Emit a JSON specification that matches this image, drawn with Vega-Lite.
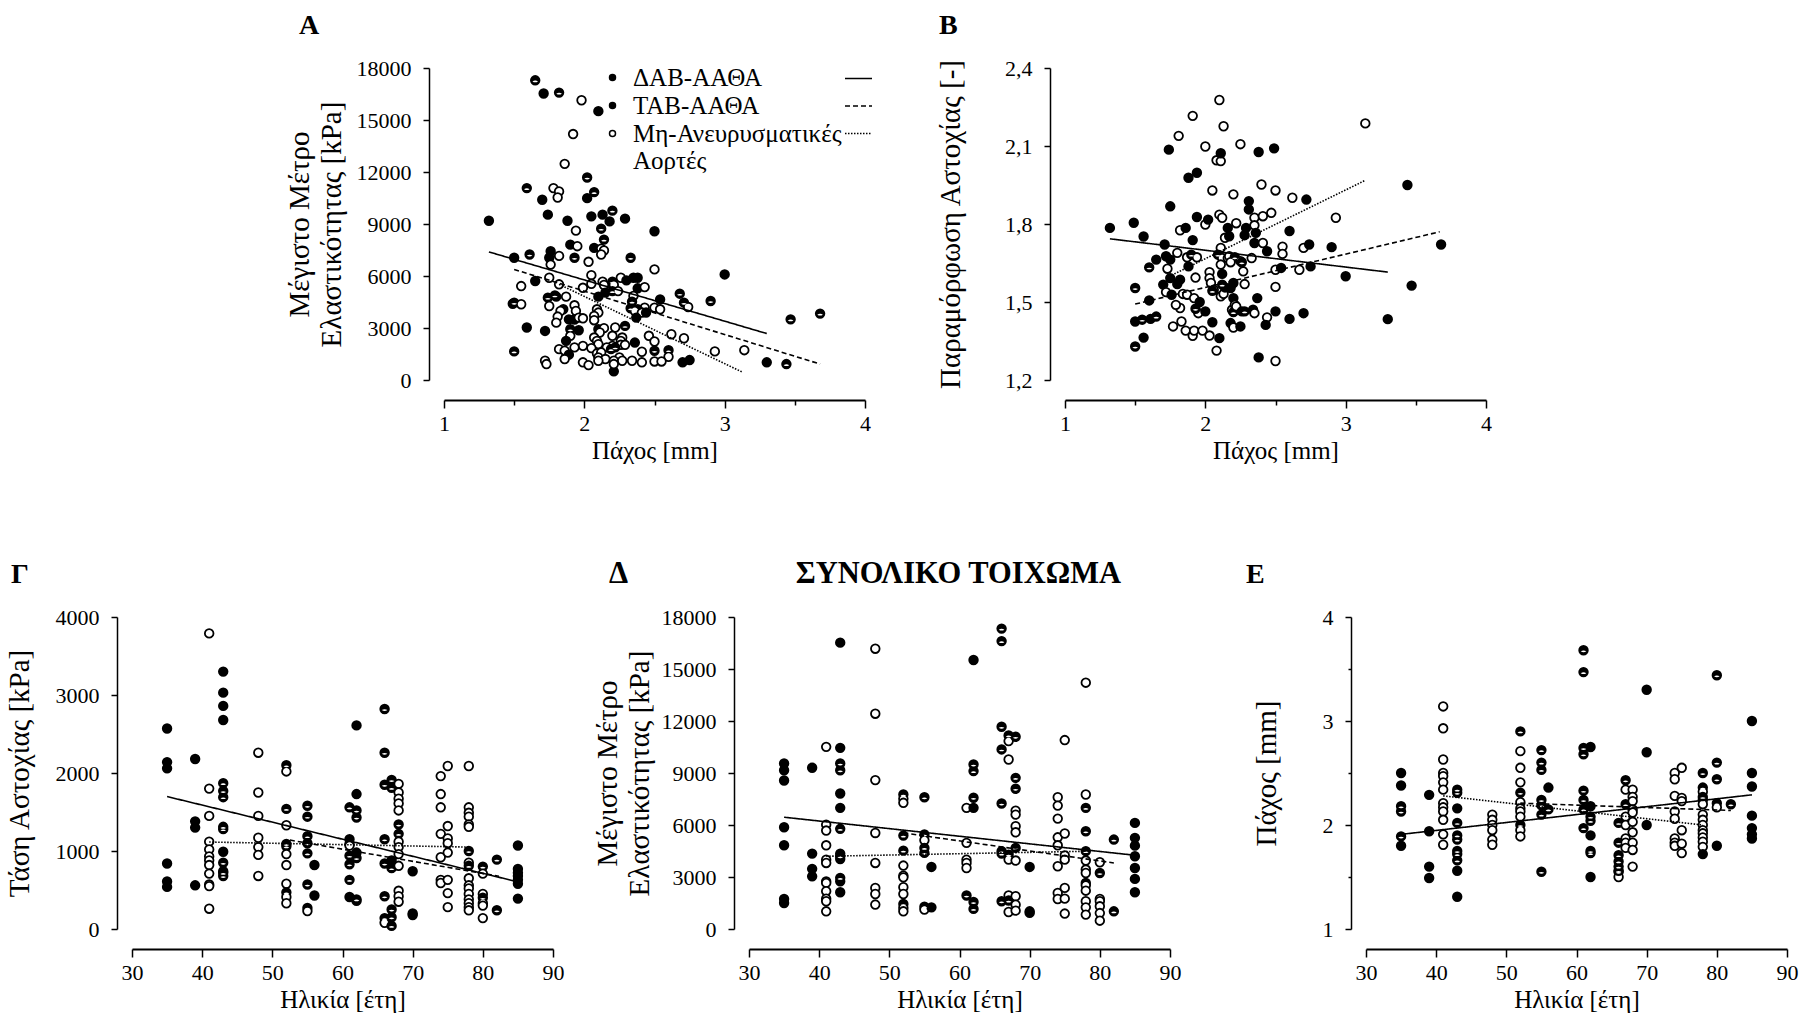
{
"$schema":"https://vega.github.io/schema/vega-lite/v6.json",
"background":"white",
"padding":{"left":4,"top":12,"right":5,"bottom":5},
"config":{
 "view":{"stroke":null},
 "font":"Liberation Serif",
 "axis":{"grid":false,"domainColor":"black","tickColor":"black","tickWidth":1.5,"labelFont":"Liberation Serif","labelFontSize":22,"labelColor":"black","titleFont":"Liberation Serif","titleFontWeight":"normal","titleColor":"black","labelOverlap":false},
 "axisX":{"offset":20,"domainWidth":2,"labelPadding":5,"titlePadding":4,"titleFontSize":25,"labelFlush":false},
 "axisY":{"offset":15,"domainWidth":1.5,"labelPadding":12,"titleFontSize":29,"titleLineHeight":32},
 "title":{"font":"Liberation Serif","fontSize":28,"fontWeight":"bold","anchor":"start","frame":"group","offset":17,"color":"black"},
 "legend":{"labelFont":"Liberation Serif","labelColor":"black"}
},
"datasets":{
"A":[
{"x":1.65,"y":17290,"g":"H"},{"x":1.71,"y":16530,"g":"F"},{"x":1.82,"y":16580,"g":"H"},{"x":1.98,"y":16140,"g":"O"},{"x":2.10,"y":15510,"g":"F"},{"x":1.92,"y":14190,"g":"O"},{"x":1.86,"y":12470,"g":"O"},{"x":2.02,"y":11680,"g":"H"},{"x":1.59,"y":11070,"g":"H"},{"x":1.78,"y":11070,"g":"O"},{"x":1.82,"y":10880,"g":"O"},{"x":1.81,"y":10530,"g":"O"},{"x":1.70,"y":10400,"g":"F"},{"x":2.07,"y":10840,"g":"H"},{"x":2.02,"y":10490,"g":"F"},{"x":1.32,"y":9190,"g":"F"},{"x":1.74,"y":9540,"g":"F"},{"x":1.88,"y":9190,"g":"F"},{"x":2.05,"y":9440,"g":"F"},{"x":2.13,"y":9540,"g":"F"},{"x":2.20,"y":9770,"g":"H"},{"x":2.18,"y":9150,"g":"F"},{"x":2.29,"y":9310,"g":"F"},{"x":1.94,"y":8620,"g":"O"},{"x":2.12,"y":8730,"g":"H"},{"x":2.50,"y":8580,"g":"F"},{"x":2.14,"y":8100,"g":"H"},{"x":1.90,"y":7810,"g":"F"},{"x":1.95,"y":7720,"g":"O"},{"x":2.07,"y":7620,"g":"F"},{"x":2.12,"y":7580,"g":"O"},{"x":2.14,"y":7470,"g":"O"},{"x":2.12,"y":7240,"g":"O"},{"x":1.61,"y":7240,"g":"H"},{"x":1.76,"y":7430,"g":"F"},{"x":1.82,"y":7160,"g":"O"},{"x":1.75,"y":7050,"g":"F"},{"x":1.76,"y":6660,"g":"O"},{"x":1.93,"y":7050,"g":"H"},{"x":2.33,"y":7050,"g":"H"},{"x":1.50,"y":7050,"g":"F"},{"x":2.03,"y":6820,"g":"O"},{"x":2.50,"y":6380,"g":"O"},{"x":3.00,"y":6090,"g":"F"},{"x":1.65,"y":5710,"g":"F"},{"x":1.55,"y":5420,"g":"O"},{"x":1.75,"y":5900,"g":"O"},{"x":1.82,"y":5520,"g":"O"},{"x":2.05,"y":6050,"g":"O"},{"x":2.05,"y":5550,"g":"O"},{"x":1.99,"y":5320,"g":"O"},{"x":2.13,"y":5670,"g":"O"},{"x":2.14,"y":5480,"g":"O"},{"x":2.20,"y":5670,"g":"H"},{"x":2.21,"y":5480,"g":"O"},{"x":2.26,"y":5900,"g":"O"},{"x":2.30,"y":5750,"g":"F"},{"x":2.35,"y":5900,"g":"F"},{"x":2.38,"y":5900,"g":"F"},{"x":2.38,"y":5290,"g":"F"},{"x":2.43,"y":5360,"g":"O"},{"x":2.20,"y":5130,"g":"H"},{"x":2.24,"y":5130,"g":"O"},{"x":2.15,"y":5040,"g":"F"},{"x":2.10,"y":4810,"g":"F"},{"x":1.79,"y":4880,"g":"H"},{"x":1.74,"y":4750,"g":"H"},{"x":1.80,"y":4810,"g":"F"},{"x":1.87,"y":4810,"g":"O"},{"x":2.68,"y":4980,"g":"H"},{"x":2.54,"y":4650,"g":"F"},{"x":2.71,"y":4460,"g":"H"},{"x":2.74,"y":4210,"g":"O"},{"x":2.90,"y":4560,"g":"H"},{"x":2.35,"y":4850,"g":"O"},{"x":2.34,"y":4520,"g":"H"},{"x":2.43,"y":4170,"g":"O"},{"x":2.50,"y":4170,"g":"O"},{"x":2.54,"y":4080,"g":"O"},{"x":1.50,"y":4460,"g":"H"},{"x":1.49,"y":4400,"g":"F"},{"x":1.55,"y":4370,"g":"O"},{"x":1.75,"y":4270,"g":"O"},{"x":1.85,"y":4080,"g":"F"},{"x":1.83,"y":3980,"g":"O"},{"x":1.93,"y":4310,"g":"O"},{"x":1.94,"y":3980,"g":"O"},{"x":2.09,"y":4080,"g":"O"},{"x":2.33,"y":4140,"g":"H"},{"x":2.38,"y":4080,"g":"F"},{"x":2.36,"y":3980,"g":"O"},{"x":2.41,"y":3890,"g":"O"},{"x":2.44,"y":3890,"g":"F"},{"x":2.10,"y":3890,"g":"O"},{"x":2.07,"y":3700,"g":"O"},{"x":2.37,"y":3600,"g":"F"},{"x":1.81,"y":3660,"g":"O"},{"x":1.80,"y":3310,"g":"O"},{"x":1.89,"y":3500,"g":"F"},{"x":1.93,"y":3490,"g":"F"},{"x":1.96,"y":3600,"g":"O"},{"x":1.99,"y":3560,"g":"O"},{"x":2.07,"y":3450,"g":"O"},{"x":3.47,"y":3500,"g":"H"},{"x":3.68,"y":3830,"g":"H"},{"x":1.59,"y":3030,"g":"F"},{"x":1.72,"y":2830,"g":"F"},{"x":1.90,"y":2930,"g":"H"},{"x":1.96,"y":2870,"g":"F"},{"x":2.10,"y":2930,"g":"F"},{"x":2.14,"y":2990,"g":"O"},{"x":2.22,"y":3030,"g":"O"},{"x":2.29,"y":3120,"g":"H"},{"x":2.11,"y":2740,"g":"O"},{"x":2.20,"y":2550,"g":"O"},{"x":2.27,"y":2450,"g":"O"},{"x":2.62,"y":2640,"g":"O"},{"x":2.71,"y":2410,"g":"O"},{"x":2.46,"y":2550,"g":"O"},{"x":2.50,"y":2220,"g":"O"},{"x":1.90,"y":2550,"g":"O"},{"x":2.07,"y":2450,"g":"O"},{"x":1.87,"y":2260,"g":"F"},{"x":2.09,"y":2260,"g":"O"},{"x":2.26,"y":2260,"g":"O"},{"x":2.36,"y":2160,"g":"F"},{"x":2.20,"y":1970,"g":"O"},{"x":2.10,"y":2070,"g":"O"},{"x":2.26,"y":2030,"g":"O"},{"x":2.29,"y":2030,"g":"O"},{"x":1.99,"y":1970,"g":"O"},{"x":1.93,"y":1880,"g":"O"},{"x":2.05,"y":1840,"g":"O"},{"x":1.82,"y":1780,"g":"O"},{"x":1.86,"y":1690,"g":"O"},{"x":2.16,"y":1880,"g":"O"},{"x":2.19,"y":1780,"g":"H"},{"x":2.22,"y":1880,"g":"H"},{"x":2.41,"y":1630,"g":"O"},{"x":2.50,"y":1690,"g":"H"},{"x":2.60,"y":1720,"g":"H"},{"x":1.50,"y":1650,"g":"H"},{"x":2.09,"y":1530,"g":"O"},{"x":2.12,"y":1590,"g":"O"},{"x":1.89,"y":1460,"g":"F"},{"x":2.93,"y":1650,"g":"O"},{"x":3.14,"y":1720,"g":"O"},{"x":2.60,"y":1340,"g":"O"},{"x":2.10,"y":1300,"g":"O"},{"x":2.25,"y":1300,"g":"O"},{"x":2.15,"y":1210,"g":"O"},{"x":2.21,"y":1110,"g":"O"},{"x":1.86,"y":1210,"g":"O"},{"x":1.72,"y":1110,"g":"O"},{"x":1.73,"y":920,"g":"O"},{"x":2.10,"y":1110,"g":"O"},{"x":1.99,"y":1020,"g":"O"},{"x":2.03,"y":860,"g":"O"},{"x":2.27,"y":1110,"g":"O"},{"x":2.34,"y":1110,"g":"O"},{"x":2.41,"y":1020,"g":"O"},{"x":2.50,"y":1070,"g":"O"},{"x":2.55,"y":1070,"g":"O"},{"x":2.70,"y":1020,"g":"F"},{"x":2.75,"y":1150,"g":"F"},{"x":3.30,"y":1020,"g":"F"},{"x":3.44,"y":920,"g":"H"},{"x":2.21,"y":500,"g":"F"},{"x":2.21,"y":920,"g":"O"}
],
"B":[
{"x":1.32,"y":1.785,"g":"F"},{"x":1.49,"y":1.805,"g":"F"},{"x":1.56,"y":1.752,"g":"F"},{"x":1.50,"y":1.554,"g":"H"},{"x":1.50,"y":1.425,"g":"F"},{"x":1.55,"y":1.432,"g":"H"},{"x":1.56,"y":1.363,"g":"F"},{"x":1.50,"y":1.329,"g":"H"},{"x":1.60,"y":1.506,"g":"F"},{"x":1.60,"y":1.633,"g":"H"},{"x":1.61,"y":1.435,"g":"F"},{"x":1.65,"y":1.444,"g":"H"},{"x":1.65,"y":1.663,"g":"F"},{"x":1.71,"y":1.721,"g":"F"},{"x":1.70,"y":1.567,"g":"F"},{"x":1.72,"y":1.676,"g":"F"},{"x":1.73,"y":1.628,"g":"O"},{"x":1.72,"y":1.538,"g":"O"},{"x":1.75,"y":1.592,"g":"F"},{"x":1.75,"y":1.663,"g":"F"},{"x":1.76,"y":1.528,"g":"F"},{"x":1.77,"y":1.406,"g":"O"},{"x":1.74,"y":2.086,"g":"F"},{"x":1.75,"y":1.868,"g":"F"},{"x":1.81,"y":2.139,"g":"O"},{"x":1.80,"y":1.689,"g":"O"},{"x":1.82,"y":1.776,"g":"O"},{"x":1.82,"y":1.586,"g":"F"},{"x":1.80,"y":1.569,"g":"F"},{"x":1.82,"y":1.477,"g":"O"},{"x":1.79,"y":1.489,"g":"O"},{"x":1.83,"y":1.425,"g":"O"},{"x":1.86,"y":1.785,"g":"F"},{"x":1.87,"y":1.672,"g":"O"},{"x":1.88,"y":1.978,"g":"F"},{"x":1.84,"y":1.531,"g":"O"},{"x":1.87,"y":1.528,"g":"O"},{"x":1.88,"y":1.637,"g":"F"},{"x":1.90,"y":1.682,"g":"H"},{"x":1.91,"y":1.738,"g":"F"},{"x":1.91,"y":2.216,"g":"O"},{"x":1.94,"y":1.997,"g":"F"},{"x":1.94,"y":1.827,"g":"F"},{"x":1.94,"y":1.672,"g":"O"},{"x":1.92,"y":1.515,"g":"O"},{"x":1.93,"y":1.594,"g":"O"},{"x":1.96,"y":1.500,"g":"F"},{"x":1.95,"y":1.457,"g":"O"},{"x":1.93,"y":1.474,"g":"H"},{"x":1.86,"y":1.390,"g":"O"},{"x":1.91,"y":1.370,"g":"O"},{"x":1.92,"y":1.390,"g":"O"},{"x":1.98,"y":1.390,"g":"O"},{"x":2.00,"y":1.464,"g":"F"},{"x":2.00,"y":2.098,"g":"O"},{"x":2.00,"y":1.798,"g":"O"},{"x":2.02,"y":1.817,"g":"F"},{"x":2.03,"y":1.371,"g":"O"},{"x":2.03,"y":1.615,"g":"O"},{"x":2.03,"y":1.592,"g":"O"},{"x":2.05,"y":1.929,"g":"O"},{"x":2.05,"y":1.422,"g":"F"},{"x":2.04,"y":1.573,"g":"O"},{"x":2.06,"y":1.547,"g":"O"},{"x":2.05,"y":1.543,"g":"H"},{"x":2.08,"y":2.045,"g":"O"},{"x":2.11,"y":2.042,"g":"O"},{"x":2.10,"y":2.277,"g":"O"},{"x":2.11,"y":2.072,"g":"F"},{"x":2.13,"y":2.176,"g":"O"},{"x":2.08,"y":1.313,"g":"O"},{"x":2.10,"y":1.361,"g":"F"},{"x":2.10,"y":1.836,"g":"O"},{"x":2.12,"y":1.824,"g":"O"},{"x":2.11,"y":1.708,"g":"O"},{"x":2.09,"y":1.682,"g":"H"},{"x":2.12,"y":1.669,"g":"O"},{"x":2.14,"y":1.747,"g":"O"},{"x":2.11,"y":1.644,"g":"O"},{"x":2.12,"y":1.608,"g":"F"},{"x":2.12,"y":1.567,"g":"H"},{"x":2.11,"y":1.522,"g":"O"},{"x":2.13,"y":1.531,"g":"O"},{"x":2.14,"y":1.556,"g":"F"},{"x":2.16,"y":1.785,"g":"F"},{"x":2.17,"y":1.753,"g":"F"},{"x":2.16,"y":1.669,"g":"O"},{"x":2.17,"y":1.676,"g":"O"},{"x":2.18,"y":1.554,"g":"F"},{"x":2.20,"y":1.573,"g":"F"},{"x":2.20,"y":1.914,"g":"O"},{"x":2.22,"y":1.803,"g":"O"},{"x":2.21,"y":1.672,"g":"H"},{"x":2.18,"y":1.653,"g":"O"},{"x":2.20,"y":1.515,"g":"F"},{"x":2.19,"y":1.470,"g":"O"},{"x":2.20,"y":1.461,"g":"H"},{"x":2.21,"y":1.489,"g":"O"},{"x":2.18,"y":1.419,"g":"F"},{"x":2.20,"y":1.402,"g":"O"},{"x":2.22,"y":1.483,"g":"O"},{"x":2.25,"y":2.107,"g":"O"},{"x":2.25,"y":1.657,"g":"O"},{"x":2.26,"y":1.653,"g":"H"},{"x":2.27,"y":1.618,"g":"O"},{"x":2.28,"y":1.569,"g":"O"},{"x":2.25,"y":1.406,"g":"F"},{"x":2.26,"y":1.464,"g":"F"},{"x":2.28,"y":1.464,"g":"H"},{"x":2.28,"y":1.757,"g":"F"},{"x":2.29,"y":1.785,"g":"F"},{"x":2.31,"y":1.888,"g":"F"},{"x":2.31,"y":1.856,"g":"F"},{"x":2.33,"y":1.669,"g":"O"},{"x":2.35,"y":1.824,"g":"O"},{"x":2.35,"y":1.795,"g":"O"},{"x":2.34,"y":1.470,"g":"F"},{"x":2.35,"y":1.457,"g":"O"},{"x":2.35,"y":1.727,"g":"F"},{"x":2.36,"y":1.766,"g":"F"},{"x":2.37,"y":1.515,"g":"F"},{"x":2.38,"y":2.077,"g":"F"},{"x":2.38,"y":1.287,"g":"F"},{"x":2.40,"y":1.952,"g":"O"},{"x":2.41,"y":1.830,"g":"O"},{"x":2.41,"y":1.727,"g":"O"},{"x":2.44,"y":1.695,"g":"F"},{"x":2.44,"y":1.441,"g":"O"},{"x":2.43,"y":1.412,"g":"F"},{"x":2.47,"y":1.843,"g":"O"},{"x":2.50,"y":1.929,"g":"O"},{"x":2.49,"y":2.091,"g":"F"},{"x":2.50,"y":1.558,"g":"O"},{"x":2.50,"y":1.464,"g":"F"},{"x":2.50,"y":1.273,"g":"O"},{"x":2.50,"y":1.624,"g":"O"},{"x":2.54,"y":1.631,"g":"F"},{"x":2.55,"y":1.713,"g":"O"},{"x":2.55,"y":1.685,"g":"O"},{"x":2.60,"y":1.773,"g":"F"},{"x":2.60,"y":1.435,"g":"F"},{"x":2.62,"y":1.901,"g":"O"},{"x":2.67,"y":1.624,"g":"O"},{"x":2.70,"y":1.457,"g":"F"},{"x":2.70,"y":1.708,"g":"O"},{"x":2.72,"y":1.894,"g":"F"},{"x":2.74,"y":1.721,"g":"F"},{"x":2.75,"y":1.637,"g":"F"},{"x":2.90,"y":1.711,"g":"F"},{"x":2.93,"y":1.824,"g":"O"},{"x":3.00,"y":1.599,"g":"F"},{"x":3.14,"y":2.187,"g":"O"},{"x":3.30,"y":1.434,"g":"F"},{"x":3.44,"y":1.950,"g":"F"},{"x":3.47,"y":1.563,"g":"F"},{"x":3.68,"y":1.721,"g":"F"}
],
"G":[
{"x":35,"y":2570,"g":"F"},{"x":35,"y":2140,"g":"F"},{"x":35,"y":2060,"g":"F"},{"x":35,"y":840,"g":"F"},{"x":35,"y":610,"g":"F"},{"x":35,"y":540,"g":"F"},
{"x":39,"y":2180,"g":"F"},{"x":39,"y":1380,"g":"F"},{"x":39,"y":1300,"g":"F"},{"x":39,"y":560,"g":"F"},
{"x":41,"y":3790,"g":"O"},{"x":41,"y":1800,"g":"O"},{"x":41,"y":1450,"g":"O"},{"x":41,"y":1120,"g":"O"},{"x":41,"y":1020,"g":"O"},{"x":41,"y":930,"g":"O"},{"x":41,"y":880,"g":"O"},{"x":41,"y":820,"g":"O"},{"x":41,"y":710,"g":"O"},{"x":41,"y":570,"g":"O"},{"x":41,"y":550,"g":"O"},{"x":41,"y":260,"g":"O"},
{"x":43,"y":3300,"g":"F"},{"x":43,"y":3030,"g":"F"},{"x":43,"y":2860,"g":"F"},{"x":43,"y":2680,"g":"F"},{"x":43,"y":1870,"g":"H"},{"x":43,"y":1770,"g":"H"},{"x":43,"y":1690,"g":"H"},{"x":43,"y":1310,"g":"H"},{"x":43,"y":1280,"g":"H"},{"x":43,"y":990,"g":"F"},{"x":43,"y":850,"g":"H"},{"x":43,"y":740,"g":"F"},{"x":43,"y":720,"g":"H"},{"x":43,"y":680,"g":"H"},
{"x":48,"y":2260,"g":"O"},{"x":48,"y":1750,"g":"O"},{"x":48,"y":1450,"g":"O"},{"x":48,"y":1170,"g":"O"},{"x":48,"y":1050,"g":"O"},{"x":48,"y":950,"g":"O"},{"x":48,"y":680,"g":"O"},
{"x":52,"y":2100,"g":"H"},{"x":52,"y":2020,"g":"O"},{"x":52,"y":1540,"g":"H"},{"x":52,"y":1330,"g":"O"},{"x":52,"y":1090,"g":"H"},{"x":52,"y":1060,"g":"H"},{"x":52,"y":960,"g":"O"},{"x":52,"y":820,"g":"O"},{"x":52,"y":580,"g":"O"},{"x":52,"y":470,"g":"H"},{"x":52,"y":410,"g":"O"},{"x":52,"y":330,"g":"O"},
{"x":55,"y":1580,"g":"H"},{"x":55,"y":1440,"g":"H"},{"x":55,"y":1190,"g":"H"},{"x":55,"y":1100,"g":"H"},{"x":55,"y":970,"g":"H"},{"x":55,"y":570,"g":"H"},{"x":55,"y":270,"g":"H"},{"x":55,"y":230,"g":"O"},
{"x":56,"y":820,"g":"F"},{"x":56,"y":430,"g":"F"},
{"x":61,"y":1560,"g":"H"},{"x":61,"y":1150,"g":"F"},{"x":61,"y":1090,"g":"H"},{"x":61,"y":1070,"g":"O"},{"x":61,"y":940,"g":"H"},{"x":61,"y":830,"g":"H"},{"x":61,"y":630,"g":"H"},{"x":61,"y":410,"g":"F"},
{"x":62,"y":2610,"g":"F"},{"x":62,"y":1730,"g":"F"},{"x":62,"y":1520,"g":"H"},{"x":62,"y":1430,"g":"H"},{"x":62,"y":980,"g":"F"},{"x":62,"y":910,"g":"H"},{"x":62,"y":380,"g":"H"},{"x":62,"y":360,"g":"F"},
{"x":66,"y":2820,"g":"H"},{"x":66,"y":2260,"g":"H"},{"x":66,"y":1850,"g":"H"},{"x":66,"y":1150,"g":"H"},{"x":66,"y":840,"g":"H"},{"x":66,"y":420,"g":"H"},{"x":66,"y":140,"g":"H"},{"x":66,"y":80,"g":"O"},
{"x":67,"y":1910,"g":"H"},{"x":67,"y":1810,"g":"H"},{"x":67,"y":880,"g":"F"},{"x":67,"y":780,"g":"H"},{"x":67,"y":250,"g":"H"},{"x":67,"y":150,"g":"H"},{"x":67,"y":40,"g":"H"},
{"x":68,"y":1860,"g":"O"},{"x":68,"y":1750,"g":"O"},{"x":68,"y":1670,"g":"O"},{"x":68,"y":1610,"g":"O"},{"x":68,"y":1520,"g":"O"},{"x":68,"y":1340,"g":"H"},{"x":68,"y":1220,"g":"H"},{"x":68,"y":1120,"g":"O"},{"x":68,"y":1050,"g":"O"},{"x":68,"y":960,"g":"O"},{"x":68,"y":810,"g":"O"},{"x":68,"y":490,"g":"O"},{"x":68,"y":420,"g":"O"},{"x":68,"y":350,"g":"O"},
{"x":70,"y":740,"g":"F"},{"x":70,"y":200,"g":"F"},{"x":70,"y":180,"g":"F"},
{"x":74,"y":1960,"g":"O"},{"x":74,"y":1730,"g":"O"},{"x":74,"y":1560,"g":"O"},{"x":74,"y":1220,"g":"O"},{"x":74,"y":920,"g":"O"},{"x":74,"y":630,"g":"O"},{"x":74,"y":590,"g":"O"},
{"x":75,"y":2090,"g":"O"},{"x":75,"y":1320,"g":"O"},{"x":75,"y":1160,"g":"O"},{"x":75,"y":1100,"g":"O"},{"x":75,"y":980,"g":"O"},{"x":75,"y":630,"g":"O"},{"x":75,"y":460,"g":"O"},{"x":75,"y":280,"g":"O"},
{"x":78,"y":2090,"g":"O"},{"x":78,"y":1560,"g":"O"},{"x":78,"y":1490,"g":"O"},{"x":78,"y":1440,"g":"O"},{"x":78,"y":1340,"g":"O"},{"x":78,"y":1310,"g":"O"},{"x":78,"y":1000,"g":"H"},{"x":78,"y":850,"g":"O"},{"x":78,"y":810,"g":"H"},{"x":78,"y":650,"g":"O"},{"x":78,"y":560,"g":"O"},{"x":78,"y":520,"g":"O"},{"x":78,"y":450,"g":"O"},{"x":78,"y":380,"g":"O"},{"x":78,"y":330,"g":"O"},{"x":78,"y":280,"g":"O"},{"x":78,"y":240,"g":"O"},
{"x":80,"y":800,"g":"H"},{"x":80,"y":710,"g":"O"},{"x":80,"y":450,"g":"O"},{"x":80,"y":400,"g":"H"},{"x":80,"y":330,"g":"O"},{"x":80,"y":300,"g":"O"},{"x":80,"y":140,"g":"O"},
{"x":82,"y":890,"g":"H"},{"x":82,"y":240,"g":"H"},
{"x":85,"y":1070,"g":"F"},{"x":85,"y":770,"g":"F"},{"x":85,"y":720,"g":"F"},{"x":85,"y":680,"g":"F"},{"x":85,"y":630,"g":"F"},{"x":85,"y":580,"g":"F"},{"x":85,"y":390,"g":"F"}
],
"D":[
{"x":35,"y":9550,"g":"F"},{"x":35,"y":9160,"g":"F"},{"x":35,"y":8570,"g":"F"},{"x":35,"y":5870,"g":"F"},{"x":35,"y":4830,"g":"F"},{"x":35,"y":1730,"g":"F"},{"x":35,"y":1500,"g":"F"},
{"x":39,"y":9300,"g":"F"},{"x":39,"y":4350,"g":"F"},{"x":39,"y":3470,"g":"F"},{"x":39,"y":3040,"g":"F"},
{"x":41,"y":10510,"g":"O"},{"x":41,"y":6020,"g":"O"},{"x":41,"y":5680,"g":"O"},{"x":41,"y":4830,"g":"O"},{"x":41,"y":4000,"g":"O"},{"x":41,"y":3810,"g":"O"},{"x":41,"y":2750,"g":"O"},{"x":41,"y":2660,"g":"O"},{"x":41,"y":2180,"g":"O"},{"x":41,"y":1750,"g":"O"},{"x":41,"y":1600,"g":"O"},{"x":41,"y":1020,"g":"O"},
{"x":43,"y":16520,"g":"F"},{"x":43,"y":10450,"g":"F"},{"x":43,"y":9550,"g":"H"},{"x":43,"y":9160,"g":"H"},{"x":43,"y":7820,"g":"F"},{"x":43,"y":6990,"g":"F"},{"x":43,"y":5780,"g":"H"},{"x":43,"y":4350,"g":"F"},{"x":43,"y":4200,"g":"H"},{"x":43,"y":4040,"g":"F"},{"x":43,"y":2950,"g":"H"},{"x":43,"y":2750,"g":"F"},{"x":43,"y":2120,"g":"F"},
{"x":48,"y":16170,"g":"O"},{"x":48,"y":12420,"g":"O"},{"x":48,"y":8590,"g":"O"},{"x":48,"y":5540,"g":"O"},{"x":48,"y":3810,"g":"O"},{"x":48,"y":2370,"g":"O"},{"x":48,"y":2020,"g":"O"},{"x":48,"y":1410,"g":"O"},
{"x":52,"y":7760,"g":"H"},{"x":52,"y":7510,"g":"O"},{"x":52,"y":7280,"g":"O"},{"x":52,"y":5390,"g":"H"},{"x":52,"y":4520,"g":"H"},{"x":52,"y":3660,"g":"O"},{"x":52,"y":3080,"g":"O"},{"x":52,"y":2980,"g":"O"},{"x":52,"y":2410,"g":"O"},{"x":52,"y":2020,"g":"O"},{"x":52,"y":1440,"g":"H"},{"x":52,"y":1210,"g":"O"},{"x":52,"y":1020,"g":"O"},
{"x":55,"y":7600,"g":"H"},{"x":55,"y":5450,"g":"H"},{"x":55,"y":5120,"g":"O"},{"x":55,"y":4680,"g":"H"},{"x":55,"y":4390,"g":"H"},{"x":55,"y":1290,"g":"H"},{"x":55,"y":1120,"g":"O"},
{"x":56,"y":3580,"g":"F"},{"x":56,"y":1250,"g":"F"},
{"x":61,"y":6990,"g":"O"},{"x":61,"y":4970,"g":"O"},{"x":61,"y":4000,"g":"O"},{"x":61,"y":3810,"g":"O"},{"x":61,"y":3520,"g":"O"},{"x":61,"y":1930,"g":"H"},
{"x":62,"y":9490,"g":"H"},{"x":62,"y":9110,"g":"H"},{"x":62,"y":7570,"g":"H"},{"x":62,"y":6990,"g":"F"},{"x":62,"y":15520,"g":"F"},{"x":62,"y":1560,"g":"H"},{"x":62,"y":1160,"g":"H"},
{"x":66,"y":17330,"g":"H"},{"x":66,"y":16610,"g":"H"},{"x":66,"y":11670,"g":"H"},{"x":66,"y":10360,"g":"H"},{"x":66,"y":7240,"g":"H"},{"x":66,"y":4490,"g":"H"},{"x":66,"y":4350,"g":"H"},{"x":66,"y":1600,"g":"H"},
{"x":67,"y":11170,"g":"H"},{"x":67,"y":10840,"g":"O"},{"x":67,"y":9780,"g":"O"},{"x":67,"y":4290,"g":"H"},{"x":67,"y":4010,"g":"O"},{"x":67,"y":1940,"g":"O"},{"x":67,"y":980,"g":"O"},{"x":67,"y":1640,"g":"H"},
{"x":68,"y":11090,"g":"H"},{"x":68,"y":8720,"g":"H"},{"x":68,"y":8090,"g":"H"},{"x":68,"y":6830,"g":"O"},{"x":68,"y":6600,"g":"O"},{"x":68,"y":5930,"g":"O"},{"x":68,"y":5580,"g":"O"},{"x":68,"y":4680,"g":"H"},{"x":68,"y":3950,"g":"O"},{"x":68,"y":1890,"g":"O"},{"x":68,"y":1400,"g":"O"},{"x":68,"y":1060,"g":"O"},
{"x":70,"y":3580,"g":"F"},{"x":70,"y":1020,"g":"F"},{"x":70,"y":930,"g":"F"},
{"x":74,"y":7600,"g":"O"},{"x":74,"y":7120,"g":"O"},{"x":74,"y":6370,"g":"O"},{"x":74,"y":5290,"g":"O"},{"x":74,"y":4830,"g":"O"},{"x":74,"y":3620,"g":"O"},{"x":74,"y":2080,"g":"O"},{"x":74,"y":1730,"g":"O"},
{"x":75,"y":10900,"g":"O"},{"x":75,"y":5510,"g":"O"},{"x":75,"y":4240,"g":"O"},{"x":75,"y":4000,"g":"O"},{"x":75,"y":2370,"g":"O"},{"x":75,"y":1750,"g":"O"},{"x":75,"y":890,"g":"O"},
{"x":78,"y":14210,"g":"O"},{"x":78,"y":7760,"g":"O"},{"x":78,"y":6990,"g":"H"},{"x":78,"y":5640,"g":"H"},{"x":78,"y":4490,"g":"H"},{"x":78,"y":3950,"g":"O"},{"x":78,"y":3430,"g":"O"},{"x":78,"y":3230,"g":"O"},{"x":78,"y":2660,"g":"H"},{"x":78,"y":2520,"g":"O"},{"x":78,"y":2210,"g":"O"},{"x":78,"y":1600,"g":"O"},{"x":78,"y":1250,"g":"O"},{"x":78,"y":830,"g":"O"},
{"x":80,"y":3850,"g":"O"},{"x":80,"y":3230,"g":"H"},{"x":80,"y":1730,"g":"O"},{"x":80,"y":1600,"g":"O"},{"x":80,"y":1310,"g":"O"},{"x":80,"y":920,"g":"O"},{"x":80,"y":480,"g":"O"},
{"x":82,"y":5160,"g":"H"},{"x":82,"y":1020,"g":"H"},
{"x":85,"y":6120,"g":"F"},{"x":85,"y":5260,"g":"F"},{"x":85,"y":4810,"g":"F"},{"x":85,"y":4200,"g":"F"},{"x":85,"y":3520,"g":"F"},{"x":85,"y":2890,"g":"F"},{"x":85,"y":2120,"g":"F"}
],
"E":[
{"x":35,"y":2.50,"g":"F"},{"x":35,"y":2.38,"g":"F"},{"x":35,"y":2.18,"g":"H"},{"x":35,"y":2.13,"g":"H"},{"x":35,"y":1.89,"g":"H"},{"x":35,"y":1.80,"g":"F"},
{"x":39,"y":2.29,"g":"F"},{"x":39,"y":1.94,"g":"F"},{"x":39,"y":1.60,"g":"F"},{"x":39,"y":1.49,"g":"F"},
{"x":41,"y":3.14,"g":"O"},{"x":41,"y":2.93,"g":"O"},{"x":41,"y":2.63,"g":"O"},{"x":41,"y":2.50,"g":"O"},{"x":41,"y":2.47,"g":"O"},{"x":41,"y":2.41,"g":"O"},{"x":41,"y":2.34,"g":"O"},{"x":41,"y":2.21,"g":"O"},{"x":41,"y":2.17,"g":"O"},{"x":41,"y":2.13,"g":"O"},{"x":41,"y":2.05,"g":"O"},{"x":41,"y":1.91,"g":"O"},{"x":41,"y":1.81,"g":"O"},
{"x":43,"y":2.34,"g":"H"},{"x":43,"y":2.31,"g":"H"},{"x":43,"y":2.16,"g":"F"},{"x":43,"y":2.02,"g":"H"},{"x":43,"y":1.90,"g":"H"},{"x":43,"y":1.86,"g":"H"},{"x":43,"y":1.75,"g":"H"},{"x":43,"y":1.72,"g":"H"},{"x":43,"y":1.66,"g":"H"},{"x":43,"y":1.56,"g":"F"},{"x":43,"y":1.31,"g":"F"},
{"x":48,"y":2.10,"g":"O"},{"x":48,"y":2.05,"g":"O"},{"x":48,"y":2.00,"g":"O"},{"x":48,"y":1.95,"g":"O"},{"x":48,"y":1.86,"g":"O"},{"x":48,"y":1.81,"g":"O"},
{"x":52,"y":2.90,"g":"H"},{"x":52,"y":2.71,"g":"O"},{"x":52,"y":2.55,"g":"O"},{"x":52,"y":2.41,"g":"O"},{"x":52,"y":2.31,"g":"H"},{"x":52,"y":2.22,"g":"O"},{"x":52,"y":2.16,"g":"O"},{"x":52,"y":2.13,"g":"O"},{"x":52,"y":2.08,"g":"O"},{"x":52,"y":2.00,"g":"H"},{"x":52,"y":1.95,"g":"O"},{"x":52,"y":1.89,"g":"O"},
{"x":55,"y":2.72,"g":"H"},{"x":55,"y":2.60,"g":"H"},{"x":55,"y":2.53,"g":"H"},{"x":55,"y":2.24,"g":"H"},{"x":55,"y":2.19,"g":"H"},{"x":55,"y":2.10,"g":"H"},{"x":55,"y":1.55,"g":"H"},
{"x":56,"y":2.36,"g":"F"},{"x":56,"y":2.15,"g":"H"},
{"x":61,"y":3.68,"g":"H"},{"x":61,"y":3.47,"g":"H"},{"x":61,"y":2.74,"g":"H"},{"x":61,"y":2.68,"g":"H"},{"x":61,"y":2.33,"g":"H"},{"x":61,"y":2.24,"g":"H"},{"x":61,"y":2.15,"g":"H"},{"x":61,"y":1.97,"g":"H"},
{"x":62,"y":2.75,"g":"F"},{"x":62,"y":2.18,"g":"F"},{"x":62,"y":2.08,"g":"H"},{"x":62,"y":2.04,"g":"H"},{"x":62,"y":1.90,"g":"F"},{"x":62,"y":1.75,"g":"H"},{"x":62,"y":1.73,"g":"H"},{"x":62,"y":1.50,"g":"F"},
{"x":66,"y":2.02,"g":"H"},{"x":66,"y":1.83,"g":"H"},{"x":66,"y":1.71,"g":"H"},{"x":66,"y":1.65,"g":"H"},{"x":66,"y":1.60,"g":"H"},{"x":66,"y":1.55,"g":"H"},{"x":66,"y":1.50,"g":"O"},{"x":66,"y":1.56,"g":"H"},
{"x":67,"y":2.43,"g":"H"},{"x":67,"y":2.34,"g":"O"},{"x":67,"y":2.20,"g":"H"},{"x":67,"y":2.08,"g":"O"},{"x":67,"y":2.00,"g":"O"},{"x":67,"y":1.87,"g":"O"},{"x":67,"y":1.83,"g":"O"},{"x":67,"y":1.78,"g":"O"},
{"x":68,"y":2.34,"g":"O"},{"x":68,"y":2.27,"g":"O"},{"x":68,"y":2.23,"g":"O"},{"x":68,"y":2.15,"g":"O"},{"x":68,"y":2.12,"g":"O"},{"x":68,"y":2.03,"g":"O"},{"x":68,"y":1.93,"g":"O"},{"x":68,"y":1.83,"g":"O"},{"x":68,"y":1.76,"g":"O"},{"x":68,"y":1.60,"g":"O"},
{"x":70,"y":3.30,"g":"F"},{"x":70,"y":2.70,"g":"F"},{"x":70,"y":2.00,"g":"F"},
{"x":74,"y":2.50,"g":"O"},{"x":74,"y":2.44,"g":"O"},{"x":74,"y":2.28,"g":"O"},{"x":74,"y":2.13,"g":"O"},{"x":74,"y":2.06,"g":"O"},{"x":74,"y":1.87,"g":"O"},{"x":74,"y":1.83,"g":"O"},{"x":74,"y":1.80,"g":"O"},
{"x":75,"y":2.55,"g":"O"},{"x":75,"y":2.26,"g":"O"},{"x":75,"y":2.23,"g":"O"},{"x":75,"y":1.95,"g":"O"},{"x":75,"y":1.82,"g":"O"},{"x":75,"y":1.73,"g":"O"},
{"x":78,"y":2.50,"g":"H"},{"x":78,"y":2.36,"g":"H"},{"x":78,"y":2.32,"g":"O"},{"x":78,"y":2.27,"g":"H"},{"x":78,"y":2.24,"g":"H"},{"x":78,"y":2.20,"g":"O"},{"x":78,"y":2.10,"g":"O"},{"x":78,"y":2.05,"g":"O"},{"x":78,"y":2.00,"g":"O"},{"x":78,"y":1.95,"g":"O"},{"x":78,"y":1.92,"g":"O"},{"x":78,"y":1.88,"g":"O"},{"x":78,"y":1.84,"g":"O"},{"x":78,"y":1.79,"g":"O"},{"x":78,"y":1.72,"g":"F"},
{"x":80,"y":3.44,"g":"H"},{"x":80,"y":2.60,"g":"H"},{"x":80,"y":2.44,"g":"H"},{"x":80,"y":2.21,"g":"H"},{"x":80,"y":2.17,"g":"O"},{"x":80,"y":1.80,"g":"F"},
{"x":82,"y":2.20,"g":"H"},
{"x":85,"y":3.00,"g":"F"},{"x":85,"y":2.50,"g":"F"},{"x":85,"y":2.37,"g":"F"},{"x":85,"y":2.09,"g":"F"},{"x":85,"y":1.97,"g":"F"},{"x":85,"y":1.91,"g":"F"},{"x":85,"y":1.87,"g":"F"}
],
"LA":[{"x":1.32,"y":7390,"s":"L1"},{"x":3.30,"y":2680,"s":"L1"},{"x":1.50,"y":6380,"s":"L2"},{"x":3.68,"y":920,"s":"L2"},{"x":1.82,"y":5520,"s":"L3"},{"x":3.13,"y":440,"s":"L3"}],
"LB":[{"x":1.32,"y":1.743,"s":"L1"},{"x":3.30,"y":1.615,"s":"L1"},{"x":1.50,"y":1.492,"s":"L2"},{"x":3.67,"y":1.770,"s":"L2"},{"x":1.76,"y":1.603,"s":"L3"},{"x":3.14,"y":1.968,"s":"L3"}],
"LG":[{"x":35,"y":1698,"s":"L1"},{"x":85,"y":604,"s":"L1"},{"x":52.5,"y":1140,"s":"L2"},{"x":82.3,"y":677,"s":"L2"},{"x":41,"y":1115,"s":"L3"},{"x":78,"y":1050,"s":"L3"}],
"LD":[{"x":35,"y":6449,"s":"L1"},{"x":85,"y":4254,"s":"L1"},{"x":52,"y":5544,"s":"L2"},{"x":82,"y":3812,"s":"L2"},{"x":41,"y":4197,"s":"L3"},{"x":78,"y":4485,"s":"L3"}],
"LE":[{"x":35,"y":1.91,"s":"L1"},{"x":85,"y":2.29,"s":"L1"},{"x":52,"y":2.21,"s":"L2"},{"x":82,"y":2.14,"s":"L2"},{"x":41,"y":2.28,"s":"L3"},{"x":78,"y":2.00,"s":"L3"}]
},
"spacing":95,
"resolve":{"scale":{"fill":"independent","strokeDash":"independent"},"legend":{"fill":"independent","strokeDash":"independent"}},
"vconcat":[
{"bounds":"flush","spacing":200,
 "resolve":{"scale":{"fill":"independent","strokeDash":"independent"},"legend":{"fill":"independent","strokeDash":"independent"}},
 "hconcat":[
 {"width":112,"height":312,"data":{"values":[]},"mark":"point"},
 {"width":421,"height":312,"title":{"text":"A","dx":-145},
  "layer":[
   {"data":{"name":"A"},"mark":{"type":"point","shape":"circle","filled":true,"stroke":"black","strokeWidth":1.8,"size":74,"opacity":1},
    "encoding":{
     "x":{"field":"x","type":"quantitative","scale":{"domain":[1,4],"nice":false,"zero":false},"axis":{"title":"Πάχος [mm]","values":[1,1.5,2,2.5,3,3.5,4],"labelExpr":"indexof([1,2,3,4], datum.value) >= 0 ? '' + datum.value : ''","tickSize":{"condition":{"test":"indexof([1,2,3,4], datum.value) >= 0","value":8},"value":5}}},
     "y":{"field":"y","type":"quantitative","scale":{"domain":[0,18000],"nice":false},"axis":{"title":["Μέγιστο Μέτρο","Ελαστικότητας [kPa]"],"titlePadding":10,"values":[0,1500,3000,4500,6000,7500,9000,10500,12000,13500,15000,16500,18000],"format":"d","labelExpr":"indexof([0,3000,6000,9000,12000,15000,18000], datum.value) >= 0 ? datum.label : ''","tickSize":{"condition":{"test":"indexof([0,3000,6000,9000,12000,15000,18000], datum.value) >= 0","value":6},"value":3}}},
     "fill":{"field":"g","type":"nominal","scale":{"domain":["F","H","O"],"range":["black","black","white"]},
      "legend":{"orient":"none","legendX":156,"legendY":-3,"title":null,"padding":0,"labelExpr":"datum.value == 'F' ? 'ΔΑΒ-ΑΑΘΑ' : datum.value == 'H' ? 'ΤΑΒ-ΑΑΘΑ' : ['Μη-Ανευρυσματικές', 'Αορτές']","labelFontSize":25,"labelLimit":400,"labelOffset":8,"symbolType":"circle","symbolSize":36,"symbolStrokeColor":"black","symbolStrokeWidth":1.5,"rowPadding":2}}
    }},
   {"data":{"name":"A"},"transform":[{"filter":"datum.g == 'H'"}],"mark":{"type":"point","shape":"M -0.65 0.25 Q 0 -0.15 0.65 0.25 Q 0 0.65 -0.65 0.25 Z","filled":true,"fill":"white","strokeWidth":0,"size":74,"opacity":1},
    "encoding":{"x":{"field":"x","type":"quantitative"},"y":{"field":"y","type":"quantitative"}}},
   {"data":{"name":"LA"},"mark":{"type":"line","color":"black","strokeWidth":1.6},
    "encoding":{"x":{"field":"x","type":"quantitative"},"y":{"field":"y","type":"quantitative"},
     "strokeDash":{"field":"s","type":"nominal","scale":{"domain":["L1","L2","L3"],"range":[[1,0],[5,3],[1.5,1.5]]},
      "legend":{"orient":"none","legendX":400,"legendY":-4,"title":null,"padding":0,"labelExpr":"''","symbolType":"stroke","symbolSize":729,"symbolStrokeWidth":1.6,"symbolStrokeColor":"black","rowPadding":7.5}}}}
  ]},
 {"width":421,"height":312,"title":{"text":"B","dx":-126},
  "layer":[
   {"data":{"name":"B"},"mark":{"type":"point","shape":"circle","filled":true,"stroke":"black","strokeWidth":1.8,"size":74,"opacity":1},
    "encoding":{
     "x":{"field":"x","type":"quantitative","scale":{"domain":[1,4],"nice":false,"zero":false},"axis":{"title":"Πάχος [mm]","values":[1,1.5,2,2.5,3,3.5,4],"labelExpr":"indexof([1,2,3,4], datum.value) >= 0 ? '' + datum.value : ''","tickSize":{"condition":{"test":"indexof([1,2,3,4], datum.value) >= 0","value":8},"value":5}}},
     "y":{"field":"y","type":"quantitative","scale":{"domain":[1.2,2.4],"nice":false,"zero":false},"axis":{"title":"Παραμόρφωση Αστοχίας [-]","titlePadding":39,"values":[1.2,1.35,1.5,1.65,1.8,1.95,2.1,2.25,2.4],"labelExpr":"indexof([1.2,1.5,1.8,2.1,2.4], datum.value) >= 0 ? replace(format(datum.value, '.1f'), '.', ',') : ''","tickSize":{"condition":{"test":"indexof([1.2,1.5,1.8,2.1,2.4], datum.value) >= 0","value":6},"value":3}}},
     "fill":{"field":"g","type":"nominal","scale":{"domain":["F","H","O"],"range":["black","black","white"]},"legend":null}
    }},
   {"data":{"name":"B"},"transform":[{"filter":"datum.g == 'H'"}],"mark":{"type":"point","shape":"M -0.65 0.25 Q 0 -0.15 0.65 0.25 Q 0 0.65 -0.65 0.25 Z","filled":true,"fill":"white","strokeWidth":0,"size":74,"opacity":1},
    "encoding":{"x":{"field":"x","type":"quantitative"},"y":{"field":"y","type":"quantitative"}}},
   {"data":{"name":"LB"},"mark":{"type":"line","color":"black","strokeWidth":1.6},
    "encoding":{"x":{"field":"x","type":"quantitative"},"y":{"field":"y","type":"quantitative"},
     "strokeDash":{"field":"s","type":"nominal","scale":{"domain":["L1","L2","L3"],"range":[[1,0],[5,3],[1.5,1.5]]},"legend":null}}}
  ]}
 ]},
{"bounds":"flush","spacing":196,
 "resolve":{"scale":{"fill":"independent","strokeDash":"independent"},"legend":{"fill":"independent","strokeDash":"independent"}},
 "hconcat":[
 {"width":421,"height":312,"title":{"text":"Γ","dx":-121},
  "layer":[
   {"data":{"name":"G"},"mark":{"type":"point","shape":"circle","filled":true,"stroke":"black","strokeWidth":1.8,"size":74,"opacity":1},
    "encoding":{
     "x":{"field":"x","type":"quantitative","scale":{"domain":[30,90],"nice":false,"zero":false},"axis":{"title":"Ηλικία [έτη]","values":[30,35,40,45,50,55,60,65,70,75,80,85,90],"labelExpr":"indexof([30,40,50,60,70,80,90], datum.value) >= 0 ? datum.label : ''","tickSize":{"condition":{"test":"indexof([30,40,50,60,70,80,90], datum.value) >= 0","value":8},"value":5}}},
     "y":{"field":"y","type":"quantitative","scale":{"domain":[0,4000],"nice":false},"axis":{"title":"Τάση Αστοχίας [kPa]","titlePadding":21,"values":[0,500,1000,1500,2000,2500,3000,3500,4000],"format":"d","labelExpr":"indexof([0,1000,2000,3000,4000], datum.value) >= 0 ? datum.label : ''","tickSize":{"condition":{"test":"indexof([0,1000,2000,3000,4000], datum.value) >= 0","value":6},"value":3}}},
     "fill":{"field":"g","type":"nominal","scale":{"domain":["F","H","O"],"range":["black","black","white"]},"legend":null}
    }},
   {"data":{"name":"G"},"transform":[{"filter":"datum.g == 'H'"}],"mark":{"type":"point","shape":"M -0.65 0.25 Q 0 -0.15 0.65 0.25 Q 0 0.65 -0.65 0.25 Z","filled":true,"fill":"white","strokeWidth":0,"size":74,"opacity":1},
    "encoding":{"x":{"field":"x","type":"quantitative"},"y":{"field":"y","type":"quantitative"}}},
   {"data":{"name":"LG"},"mark":{"type":"line","color":"black","strokeWidth":1.6},
    "encoding":{"x":{"field":"x","type":"quantitative"},"y":{"field":"y","type":"quantitative"},
     "strokeDash":{"field":"s","type":"nominal","scale":{"domain":["L1","L2","L3"],"range":[[1,0],[5,3],[1.5,1.5]]},"legend":null}}}
  ]},
 {"width":421,"height":312,"title":{"text":"Δ\u00a0\u00a0\u00a0\u00a0\u00a0\u00a0\u00a0\u00a0\u00a0\u00a0\u00a0\u00a0\u00a0\u00a0\u00a0\u00a0\u00a0\u00a0\u00a0\u00a0\u00a0\u00a0ΣΥΝΟΛΙΚΟ ΤΟΙΧΩΜΑ","dx":-140,"fontSize":30.5},
  "layer":[
   {"data":{"name":"D"},"mark":{"type":"point","shape":"circle","filled":true,"stroke":"black","strokeWidth":1.8,"size":74,"opacity":1},
    "encoding":{
     "x":{"field":"x","type":"quantitative","scale":{"domain":[30,90],"nice":false,"zero":false},"axis":{"title":"Ηλικία [έτη]","values":[30,35,40,45,50,55,60,65,70,75,80,85,90],"labelExpr":"indexof([30,40,50,60,70,80,90], datum.value) >= 0 ? datum.label : ''","tickSize":{"condition":{"test":"indexof([30,40,50,60,70,80,90], datum.value) >= 0","value":8},"value":5}}},
     "y":{"field":"y","type":"quantitative","scale":{"domain":[0,18000],"nice":false},"axis":{"title":["Μέγιστο Μέτρο","Ελαστικότητας [kPa]"],"titlePadding":7,"values":[0,1500,3000,4500,6000,7500,9000,10500,12000,13500,15000,16500,18000],"format":"d","labelExpr":"indexof([0,3000,6000,9000,12000,15000,18000], datum.value) >= 0 ? datum.label : ''","tickSize":{"condition":{"test":"indexof([0,3000,6000,9000,12000,15000,18000], datum.value) >= 0","value":6},"value":3}}},
     "fill":{"field":"g","type":"nominal","scale":{"domain":["F","H","O"],"range":["black","black","white"]},"legend":null}
    }},
   {"data":{"name":"D"},"transform":[{"filter":"datum.g == 'H'"}],"mark":{"type":"point","shape":"M -0.65 0.25 Q 0 -0.15 0.65 0.25 Q 0 0.65 -0.65 0.25 Z","filled":true,"fill":"white","strokeWidth":0,"size":74,"opacity":1},
    "encoding":{"x":{"field":"x","type":"quantitative"},"y":{"field":"y","type":"quantitative"}}},
   {"data":{"name":"LD"},"mark":{"type":"line","color":"black","strokeWidth":1.6},
    "encoding":{"x":{"field":"x","type":"quantitative"},"y":{"field":"y","type":"quantitative"},
     "strokeDash":{"field":"s","type":"nominal","scale":{"domain":["L1","L2","L3"],"range":[[1,0],[5,3],[1.5,1.5]]},"legend":null}}}
  ]},
 {"width":421,"height":312,"title":{"text":"E","dx":-120},
  "layer":[
   {"data":{"name":"E"},"mark":{"type":"point","shape":"circle","filled":true,"stroke":"black","strokeWidth":1.8,"size":74,"opacity":1},
    "encoding":{
     "x":{"field":"x","type":"quantitative","scale":{"domain":[30,90],"nice":false,"zero":false},"axis":{"title":"Ηλικία [έτη]","values":[30,35,40,45,50,55,60,65,70,75,80,85,90],"labelExpr":"indexof([30,40,50,60,70,80,90], datum.value) >= 0 ? datum.label : ''","tickSize":{"condition":{"test":"indexof([30,40,50,60,70,80,90], datum.value) >= 0","value":8},"value":5}}},
     "y":{"field":"y","type":"quantitative","scale":{"domain":[1,4],"nice":false,"zero":false},"axis":{"title":"Πάχος [mm]","titlePadding":41,"values":[1,1.5,2,2.5,3,3.5,4],"labelExpr":"indexof([1,2,3,4], datum.value) >= 0 ? '' + datum.value : ''","tickSize":{"condition":{"test":"indexof([1,2,3,4], datum.value) >= 0","value":6},"value":3}}},
     "fill":{"field":"g","type":"nominal","scale":{"domain":["F","H","O"],"range":["black","black","white"]},"legend":null}
    }},
   {"data":{"name":"E"},"transform":[{"filter":"datum.g == 'H'"}],"mark":{"type":"point","shape":"M -0.65 0.25 Q 0 -0.15 0.65 0.25 Q 0 0.65 -0.65 0.25 Z","filled":true,"fill":"white","strokeWidth":0,"size":74,"opacity":1},
    "encoding":{"x":{"field":"x","type":"quantitative"},"y":{"field":"y","type":"quantitative"}}},
   {"data":{"name":"LE"},"mark":{"type":"line","color":"black","strokeWidth":1.6},
    "encoding":{"x":{"field":"x","type":"quantitative"},"y":{"field":"y","type":"quantitative"},
     "strokeDash":{"field":"s","type":"nominal","scale":{"domain":["L1","L2","L3"],"range":[[1,0],[5,3],[1.5,1.5]]},"legend":null}}}
  ]}
 ]}
]
}
